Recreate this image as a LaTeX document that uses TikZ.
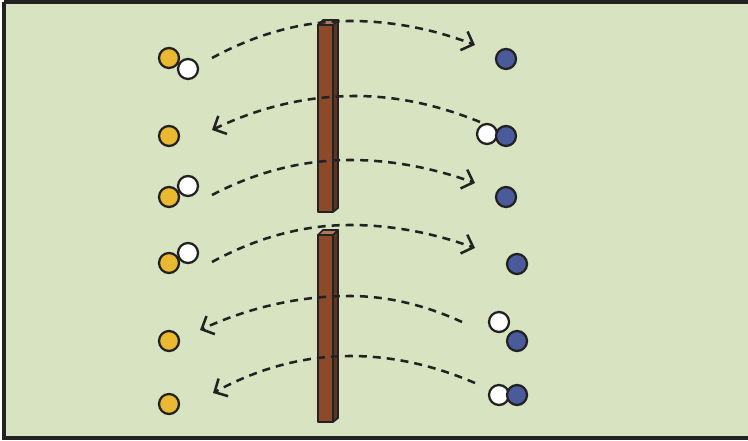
\documentclass[tikz,border=0pt]{standalone}
\usetikzlibrary{arrows.meta}
\definecolor{bg}{HTML}{D8E3C2}
\definecolor{ylw}{HTML}{EBB832}
\definecolor{blu}{HTML}{4A5B9C}
\definecolor{brn}{HTML}{8C4A2A}
\definecolor{brnd}{HTML}{5E3520}
\definecolor{brnl}{HTML}{B07A5C}
\definecolor{ink}{HTML}{222222}
\begin{document}
\begin{tikzpicture}[x=0.75pt,y=-0.75pt,
  ball/.style={circle,draw=ink,line width=1.7pt,minimum size=15pt,inner sep=0pt},
  yb/.style={ball,fill=ylw},
  wb/.style={ball,fill=white},
  bb/.style={ball,fill=blu},
  flight/.style={draw=ink,line width=1.9pt,dash pattern=on 6pt off 4.5pt,
    -{Straight Barb[length=7.5pt,width=15pt,line width=1.9pt]}},
  wallline/.style={draw=ink,line width=1.3pt,line join=round}]
\useasboundingbox (0,0) rectangle (748,441);
\fill[bg] (3,1) rectangle (748,438);
\draw[ink,line width=2.4pt] (4,2) -- (4,438) -- (748,438);
\draw[ink,line width=2.4pt] (4,2) -- (748,2);
% walls
\foreach \o/\n in {0/a,210/b}{
  \fill[brnd,wallline] (333,25+\o) -- (338,20+\o) -- (338,208+\o) -- (333,212+\o) -- cycle;
  \fill[brnl,wallline] (318,25+\o) -- (323,20+\o) -- (338,20+\o) -- (333,25+\o) -- cycle;
  \fill[brn,wallline] (318,25+\o) rectangle (333,212+\o);
}
% balls left
\node[yb] (y1) at (169,58) {};
\node[wb] (w1) at (188,69) {};
\node[yb] (y2) at (169,136) {};
\node[yb] (y3) at (169,197) {};
\node[wb] (w3) at (188,186) {};
\node[yb] (y4) at (169,263) {};
\node[wb] (w4) at (188,253) {};
\node[yb] (y5) at (169,341) {};
\node[yb] (y6) at (169,404) {};
% balls right
\node[bb] (b1) at (506,59) {};
\node[wb] (v2) at (487,134) {};
\node[bb] (b2) at (506,136) {};
\node[bb] (b3) at (506,197) {};
\node[bb] (b4) at (517,264) {};
\node[wb] (v5) at (499,322) {};
\node[bb] (b5) at (517,341) {};
\node[wb] (v6) at (499,395) {};
\node[bb] (b6) at (517,395) {};
% arrow endpoints and peaks
\coordinate (s1) at (212,58);  \coordinate (p1) at (350,21);  \coordinate (e1) at (475,45);
\coordinate (s2) at (480,122); \coordinate (p2) at (355,96);  \coordinate (e2) at (212,130);
\coordinate (s3) at (212,195); \coordinate (p3) at (350,160); \coordinate (e3) at (475,183);
\coordinate (s4) at (212,262); \coordinate (p4) at (350,225); \coordinate (e4) at (475,248);
\coordinate (s5) at (462,322); \coordinate (p5) at (350,296); \coordinate (e5) at (200,330);
\coordinate (s6) at (475,383); \coordinate (p6) at (350,356); \coordinate (e6) at (213,393);
\draw[flight] (s1) .. controls (258,33) and (304,21) .. (p1) .. controls (392,21) and (433,29) .. (e1);
\draw[flight] (s2) .. controls (438,105) and (397,96) .. (p2) .. controls (307,96) and (260,107) .. (e2);
\draw[flight] (s3) .. controls (258,171) and (304,160) .. (p3) .. controls (392,160) and (433,168) .. (e3);
\draw[flight] (s4) .. controls (258,237) and (304,225) .. (p4) .. controls (392,225) and (433,233) .. (e4);
\draw[flight] (s5) .. controls (425,305) and (387,296) .. (p5) .. controls (300,296) and (250,307) .. (e5);
\draw[flight] (s6) .. controls (433,365) and (392,356) .. (p6) .. controls (304,356) and (259,368) .. (e6);
\end{tikzpicture}
\end{document}
